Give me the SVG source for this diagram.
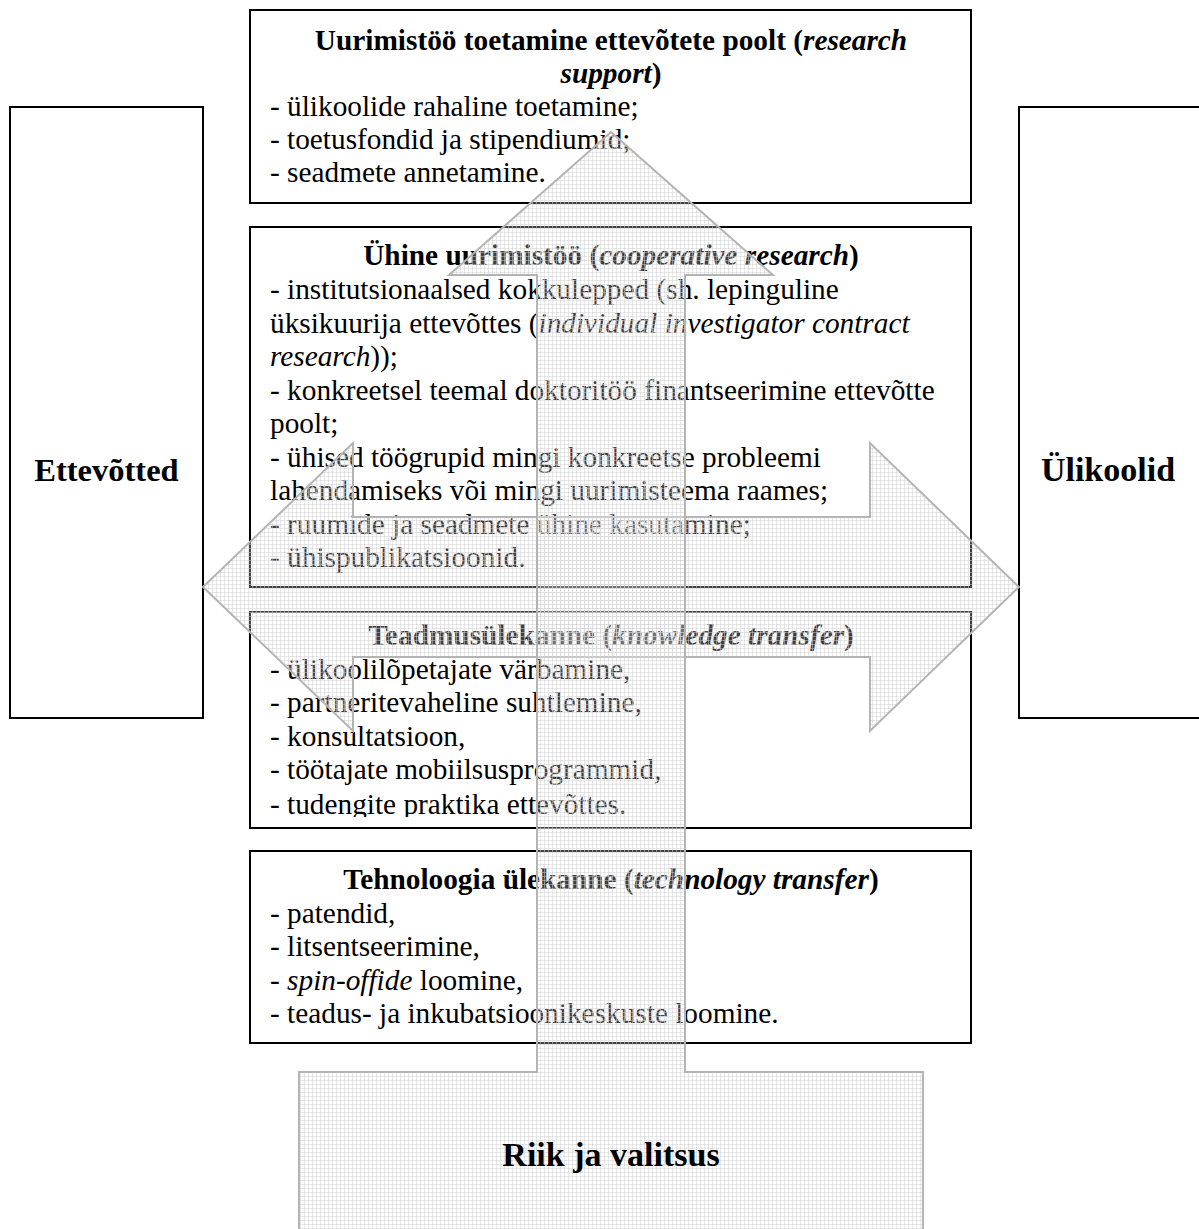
<svg xmlns="http://www.w3.org/2000/svg" width="1199" height="1229" viewBox="0 0 1199 1229">
<style>
.box{fill:#fff;stroke:#000;stroke-width:2}
.t{font-family:"Liberation Serif","Times New Roman",serif;font-size:29.3px;fill:#000}
.h{font-weight:bold;text-anchor:middle}
.i{font-style:italic}
.lbl{font-family:"Liberation Serif","Times New Roman",serif;font-size:34px;font-weight:bold;text-anchor:middle;fill:#000}
.arrow{fill:url(#grid);stroke:#b4b4b4;stroke-width:2;stroke-linejoin:miter}
</style>
<defs>
<pattern id="grid" width="4" height="4" patternUnits="userSpaceOnUse">
<rect width="4" height="4" fill="#fff" fill-opacity="0.25"/>
<path d="M0 0.5H4M0.5 0V4" stroke="#cfcfcf" stroke-opacity="0.5" stroke-width="1" fill="none"/>
</pattern>
<clipPath id="clipT"><rect x="250" y="612" width="721" height="205"/></clipPath>
</defs>
<rect width="1199" height="1229" fill="#fff"/>

<g id="ettevotted">
<rect class="box" x="10" y="107" width="193" height="611"/>
<text class="lbl" x="106.5" y="481" style="font-size:32.5px">Ettevõtted</text>
</g>

<g id="ulikoolid">
<rect class="box" x="1019" y="107" width="200" height="611"/>
<text class="lbl" x="1108" y="481">Ülikoolid</text>
</g>

<g id="research-support">
<rect class="box" x="250" y="10" width="721" height="193"/>
<text class="t h" x="611" y="50">Uurimistöö toetamine ettevõtete poolt (<tspan class="i">research</tspan></text>
<text class="t h" x="611" y="83"><tspan class="i">support</tspan>)</text>
<text class="t" x="270" y="116">- ülikoolide rahaline toetamine;</text>
<text class="t" x="270" y="149">- toetusfondid ja stipendiumid;</text>
<text class="t" x="270" y="182">- seadmete annetamine.</text>
</g>

<g id="cooperative-research">
<rect class="box" x="250" y="227" width="721" height="360"/>
<text class="t h" x="611" y="265">Ühine uurimistöö (<tspan class="i">cooperative research</tspan>)</text>
<text class="t" x="270" y="299">- institutsionaalsed kokkulepped (sh. lepinguline</text>
<text class="t" x="270" y="332.5">üksikuurija ettevõttes (<tspan class="i">individual investigator contract</tspan></text>
<text class="t" x="270" y="366"><tspan class="i">research</tspan>));</text>
<text class="t" x="270" y="399.5">- konkreetsel teemal doktoritöö finantseerimine ettevõtte</text>
<text class="t" x="270" y="433">poolt;</text>
<text class="t" x="270" y="466.5">- ühised töögrupid mingi konkreetse probleemi</text>
<text class="t" x="270" y="500">lahendamiseks või mingi uurimisteema raames;</text>
<text class="t" x="270" y="533.5">- ruumide ja seadmete ühine kasutamine;</text>
<text class="t" x="270" y="567">- ühispublikatsioonid.</text>
</g>

<g id="knowledge-transfer">
<rect class="box" x="250" y="612" width="721" height="216"/>
<g clip-path="url(#clipT)">
<text class="t h" x="611" y="645">Teadmusülekanne (<tspan class="i">knowledge transfer</tspan>)</text>
<text class="t" x="270" y="678.5">- ülikoolilõpetajate värbamine,</text>
<text class="t" x="270" y="712">- partneritevaheline suhtlemine,</text>
<text class="t" x="270" y="745.5">- konsultatsioon,</text>
<text class="t" x="270" y="779">- töötajate mobiilsusprogrammid,</text>
<text class="t" x="270" y="814">- tudengite praktika ettevõttes.</text>
</g>
</g>

<g id="technology-transfer">
<rect class="box" x="250" y="851" width="721" height="192"/>
<text class="t h" x="611" y="889">Tehnoloogia ülekanne (<tspan class="i">technology transfer</tspan>)</text>
<text class="t" x="270" y="922.5">- patendid,</text>
<text class="t" x="270" y="956">- litsentseerimine,</text>
<text class="t" x="270" y="989.5">- <tspan class="i">spin-offide</tspan> loomine,</text>
<text class="t" x="270" y="1023">- teadus- ja inkubatsioonikeskuste loomine.</text>
</g>

<g id="connectors">
<path class="arrow" d="M203 587L353 443V517H870V443L1019 587L870 731V657H353V731Z"/>
<path class="arrow" d="M611 132L773 275H685V1072H923V1240H299V1072H537V275H449Z"/>
</g>

<g id="riik-ja-valitsus">
<text class="lbl" x="611" y="1166">Riik ja valitsus</text>
</g>
</svg>
